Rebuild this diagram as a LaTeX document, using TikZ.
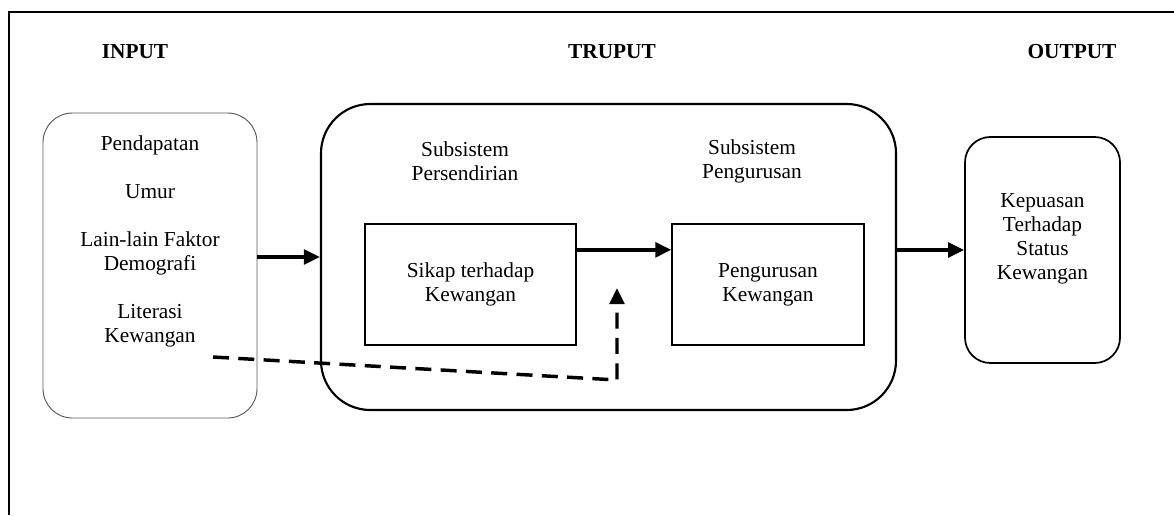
\documentclass[tikz,border=0pt]{standalone}
\usepackage{fontspec}
\setmainfont{Liberation Serif}
\usetikzlibrary{arrows.meta}

\tikzset{
    txt/.style={align=center, font=\fontsize{16}{18}\selectfont, inner sep=0pt},
    head/.style={font=\fontsize{16}{18}\selectfont\bfseries, inner sep=0pt},
    inbox/.style={draw=gray!70!black, line width=0.7pt, rounded corners=22pt,
        minimum width=160.5pt, minimum height=228.75pt},
    sysbox/.style={draw, line width=1.6pt, rounded corners=37pt,
        minimum width=431.25pt, minimum height=229.5pt},
    subbox/.style={draw, line width=1pt, minimum width=#1, minimum height=90.75pt},
    outbox/.style={draw, line width=1.3pt, rounded corners=19pt,
        minimum width=116.25pt, minimum height=169.5pt},
    arr/.style={line width=2.6pt, -{Triangle[length=12pt,width=11pt]}},
    darr/.style={arr, dash pattern=on 12pt off 7pt}
}

\begin{document}
\begin{tikzpicture}[x=0.75pt, y=-0.75pt]
    \useasboundingbox (0,0) rectangle (1174,515);
    %% frame (left and top only)
    \draw[line width=1.2pt] (9,515) -- (9,12) -- (1174,12);
    %% headings
    \node[head] (hin) at (135,52) {INPUT};
    \node[head] (hthru) at (612,52) {TRUPUT};
    \node[head] (hout) at (1072,52) {OUTPUT};
    %% boxes
    \node[inbox] (lbox) at (150,265.5) {};
    \node[sysbox] (big) at (608.5,257) {};
    \node[subbox=158.25pt] (sikap) at (470.5,284.5) {};
    \node[subbox=144pt] (urus) at (768,284.5) {};
    \node[outbox] (rbox) at (1042.5,250) {};
    %% texts
    \node[txt] (lintxt) at (150,241) {Pendapatan\\[18pt]Umur\\[18pt]Lain-lain Faktor\\Demografi\\[18pt]Literasi\\Kewangan};
    \node[txt] (persend) at (465,161) {Subsistem\\Persendirian};
    \node[txt] (pengur) at (752,161) {Subsistem\\Pengurusan};
    \node[txt] (sikaptxt) at (sikap) {Sikap terhadap\\Kewangan};
    \node[txt] (urustxt) at (urus) {Pengurusan\\Kewangan};
    \node[txt] (routtxt) at (1042.5,239) {Kepuasan\\Terhadap\\Status\\Kewangan};
    %% arrows
    \draw[arr] (big.west -| lbox.east) -- (big.west);
    \draw[arr] ([yshift=26pt]sikap.east) -- ([yshift=26pt]sikap.east -| urus.west);
    \draw[arr] (rbox.west -| big.east) -- (rbox.west);
    % dashed influence of literacy
    \coordinate (dstart) at (213,357);
    \coordinate (dcorner) at (617,380);
    \coordinate (dtip) at (617,288);
    \draw[darr] (dstart) -- (dcorner) -- (dtip);
\end{tikzpicture}
\end{document}
